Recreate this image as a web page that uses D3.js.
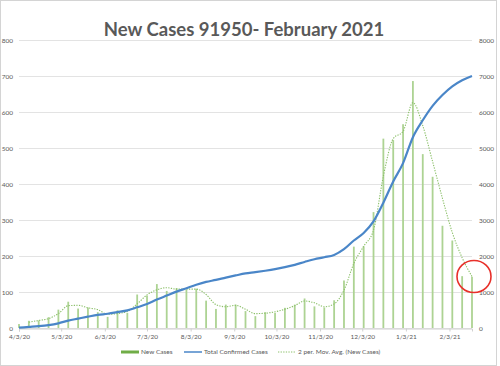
<!DOCTYPE html>
<html>
<head>
<meta charset="utf-8">
<script src="https://d3js.org/d3.v7.min.js"></script>
<style>
  body { margin: 0; background: #fff; }
  svg { display: block; font-family: Lato, "Open Sans", sans-serif; }
</style>
</head>
<body>
<div id="chart"></div>
<script>
// weekly points, first on 4/3/20, last on 2/19/21
const startDate = new Date(2020, 3, 3);
const endDate = new Date(2021, 1, 19);

const newCases = [11, 20, 21, 30, 51, 73, 54, 57, 44, 31,
  49, 42, 93, 90, 122, 103, 111, 106, 109, 76,
  53, 65, 65, 47, 33, 44, 42, 56, 65, 82,
  60, 57, 77, 132, 226, 227, 322, 526, 522, 566,
  686, 483, 420, 284, 243, 144, 142];

const totalCases = [10, 30, 50, 80, 130, 205, 260, 315, 365, 395,
  440, 490, 575, 665, 790, 900, 1010, 1105, 1200, 1280,
  1335, 1400, 1460, 1515, 1550, 1590, 1635, 1690, 1755, 1835,
  1910, 1965, 2030, 2190, 2430, 2640, 2960, 3480, 4070, 4580,
  5300, 5770, 6170, 6470, 6710, 6880, 7000];

// 2 per. moving average (starts at 2nd week)
const movAvg = [null, 16, 21, 26, 40, 62, 63, 56, 51, 38,
  40, 46, 67, 92, 106, 112, 108, 108, 108, 93,
  65, 59, 63, 52, 40, 41, 45, 52, 62, 75,
  70, 59, 67, 105, 179, 227, 272, 422, 526, 546,
  626, 562, 462, 360, 265, 195, 143];

const leftTicks = [0, 100, 200, 300, 400, 500, 600, 700, 800];
const rightTicks = [0, 1000, 2000, 3000, 4000, 5000, 6000, 7000, 8000];
const monthTicks = d3.timeMonth.range(new Date(2020, 3, 1), new Date(2021, 2, 1))
  .map(d => d3.timeDay.offset(d, 2));

const legendItems = ["New Cases", "Total Confirmed Cases", "2 per. Mov. Avg. (New Cases)"];

const weeks = d3.timeDay.range(startDate, d3.timeDay.offset(endDate, 1), 7);

const W = 500, H = 366;
const plot = { left: 19, right: 472, top: 40, bottom: 328 };

const svg = d3.select("#chart").append("svg")
  .attr("width", W)
  .attr("height", H);

// outer frame
svg.append("rect")
  .attr("x", 0.5).attr("y", 0.5)
  .attr("width", 496).attr("height", 365)
  .attr("fill", "#fff")
  .attr("stroke", "#d4d4d4");

const x = d3.scaleTime()
  .domain([startDate, endDate])
  .range([plot.left, plot.right]);

const yL = d3.scaleLinear().domain([0, 800]).range([plot.bottom, plot.top]);
const yR = d3.scaleLinear().domain([0, 8000]).range([plot.bottom, plot.top]);

// gridlines
svg.append("g")
  .selectAll("line")
  .data(leftTicks)
  .enter()
  .append("line")
  .attr("x1", plot.left)
  .attr("x2", plot.right)
  .attr("y1", d => yL(d) + 0.5)
  .attr("y2", d => yL(d) + 0.5)
  .attr("stroke", "#e3e3e3")
  .attr("stroke-width", 1);

// left axis
const leftAxis = svg.append("g")
  .attr("transform", `translate(${plot.left - 6}, 0)`)
  .call(d3.axisLeft(yL).tickValues(leftTicks).tickFormat(d3.format("d")).tickSize(0).tickPadding(0));
leftAxis.select(".domain").remove();
leftAxis.selectAll("text")
  .attr("fill", "#595959")
  .style("font-size", "6.5px")
  .style("font-family", "Lato, sans-serif");

// right axis
const rightAxis = svg.append("g")
  .attr("transform", `translate(${plot.right + 7}, 0)`)
  .call(d3.axisRight(yR).tickValues(rightTicks).tickFormat(d3.format("d")).tickSize(0).tickPadding(0));
rightAxis.select(".domain").remove();
rightAxis.selectAll("text")
  .attr("fill", "#595959")
  .style("font-size", "6.5px")
  .style("font-family", "Lato, sans-serif");

// x axis
const xAxis = svg.append("g")
  .attr("transform", `translate(0, ${plot.bottom + 0.5})`)
  .call(d3.axisBottom(x)
    .tickValues(monthTicks)
    .tickFormat(d3.timeFormat("%-m/%-d/%y"))
    .tickSize(3)
    .tickPadding(3));
xAxis.select(".domain")
  .attr("stroke", "#d0d0d0");
xAxis.selectAll(".tick line").attr("stroke", "#d0d0d0");
xAxis.selectAll("text")
  .attr("fill", "#595959")
  .style("font-size", "6.5px")
  .style("font-family", "Lato, sans-serif");

// bars
svg.append("g")
  .selectAll("rect")
  .data(newCases)
  .enter()
  .append("rect")
  .attr("x", (d, i) => x(weeks[i]) - 0.9)
  .attr("y", d => yL(d))
  .attr("width", 1.8)
  .attr("height", d => yL(0) - yL(d))
  .attr("fill", "#add393");

// moving average
const maLine = d3.line()
  .defined(d => d != null)
  .x((d, i) => x(weeks[i]))
  .y(d => yL(d))
  .curve(d3.curveMonotoneX);

svg.append("path")
  .datum(movAvg)
  .attr("d", maLine)
  .attr("fill", "none")
  .attr("stroke", "#8cc06a")
  .attr("stroke-width", 1.1)
  .attr("stroke-dasharray", "1.3,1.3");

// total confirmed cases
const totLine = d3.line()
  .x((d, i) => x(weeks[i]))
  .y(d => yR(d))
  .curve(d3.curveMonotoneX);

svg.append("path")
  .datum(totalCases)
  .attr("d", totLine)
  .attr("fill", "none")
  .attr("stroke", "#4a86c8")
  .attr("stroke-width", 2.2)
  .attr("stroke-linejoin", "round");

// red circle marking the last weeks
svg.append("ellipse")
  .attr("cx", x(weeks[weeks.length - 1]) + 2)
  .attr("cy", yR(1430))
  .attr("rx", 17)
  .attr("ry", 16)
  .attr("fill", "none")
  .attr("stroke", "#e8302a")
  .attr("stroke-width", 1.6);

// title
svg.append("text")
  .attr("x", 244)
  .attr("y", 36)
  .attr("text-anchor", "middle")
  .attr("fill", "#595959")
  .style("font-size", "18.5px")
  .style("font-weight", "bold")
  .style("font-family", "Lato, sans-serif")
  .text("New Cases 91950- February 2021");

// legend
const legendX = [121, 184, 278];
const legend = svg.append("g").attr("transform", "translate(0, 352)");
legendItems.forEach((name, i) => {
  const g = legend.append("g").attr("transform", `translate(${legendX[i]}, 0)`);
  const line = g.append("line")
    .attr("x1", 0).attr("x2", 18)
    .attr("y1", 0).attr("y2", 0);
  if (i === 0) {
    line.attr("stroke", "#70ad47").attr("stroke-width", 3);
  } else if (i === 1) {
    line.attr("stroke", "#4a86c8").attr("stroke-width", 1.5);
  } else {
    line.attr("stroke", "#8cc06a").attr("stroke-width", 1).attr("stroke-dasharray", "1.3,1.3");
  }
  g.append("text")
    .attr("x", 20)
    .attr("y", 2.3)
    .attr("fill", "#595959")
    .style("font-size", "6.5px")
    .style("font-family", "Lato, sans-serif")
    .text(name);
});
</script>
</body>
</html>
